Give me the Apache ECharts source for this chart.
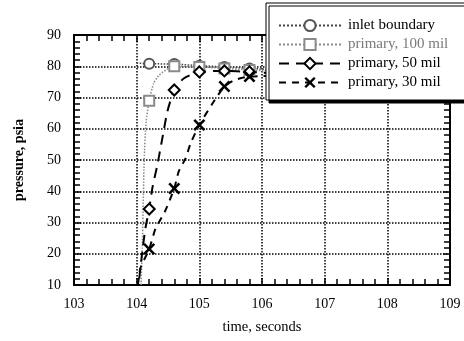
<!DOCTYPE html>
<html>
<head>
<meta charset="utf-8">
<script src="https://cdn.jsdelivr.net/npm/echarts@6/dist/echarts.min.js"></script>
<style>
  html, body { margin: 0; padding: 0; background: #fff; }
  #myChart { width: 464px; height: 341px; }
</style>
</head>
<body>
<div id="myChart"></div>
<script>
// values
const seriesNames = ['inlet boundary', 'primary, 100 mil', 'primary, 50 mil', 'primary, 30 mil']
const markerTimes = [104.2, 104.6, 105.0, 105.4, 105.8]

const inletT = [104.0, 104.2, 104.6, 105.0, 105.4, 105.8, 106.4]
const inletP = [81, 80.8, 80.7, 80.2, 79.8, 79.3, 78.7]

const mil100T = [104.07, 104.09, 104.12, 104.15, 104.2, 104.27, 104.35, 104.48, 104.6, 105.0, 105.4, 105.8, 106.4]
const mil100P = [10, 22, 50, 62, 69, 74.5, 77, 79, 80, 79.8, 79.3, 78.8, 78.2]

const mil50T = [104.04, 104.09, 104.14, 104.2, 104.25, 104.33, 104.41, 104.49, 104.6, 104.75, 105.0, 105.4, 105.8, 106.4]
const mil50P = [12, 20.7, 28.2, 34.3, 41, 48.4, 57, 65.5, 72.4, 76.1, 78.2, 78.5, 78.2, 77.5]

const mil30T = [104.02, 104.06, 104.2, 104.3, 104.45, 104.6, 104.67, 104.78, 104.86, 105.0, 105.21, 105.4, 105.56, 105.8, 106.4]
const mil30P = [10, 15.4, 21.5, 28, 33.5, 40.9, 46.3, 50.5, 55.3, 61.2, 68.1, 73.5, 75.6, 76.7, 77]

const xTicks = [103, 109, 1]
const yTicks = [10, 90, 10]

const serif = 'Liberation Serif'
const crossPath = 'path://M0,1.5L1.5,0L5,3.5L8.5,0L10,1.5L6.5,5L10,8.5L8.5,10L5,6.5L1.5,10L0,8.5L3.5,5Z'

function buildData (ts, ps) {
  return ts.map(function (t, i) {
    let item = { value: [t, ps[i]] }
    if (markerTimes.indexOf(t) < 0) item.symbol = 'none'
    return item
  })
}

function frameAxis (pos, range) {
  return {
    type: 'value',
    position: pos,
    min: range[0],
    max: range[1],
    interval: range[2],
    axisLine: { show: true, onZero: false, lineStyle: { color: '#000', width: 2 } },
    axisTick: { show: true, inside: true, length: 7, lineStyle: { color: '#000', width: 1.5 } },
    minorTick: { show: true, splitNumber: 5, length: 6, lineStyle: { color: '#000', width: 1.5 } },
    axisLabel: { show: false },
    splitLine: { show: false }
  }
}

let xMain = frameAxis('bottom', xTicks)
xMain.axisLabel = { show: true, color: '#000', fontFamily: serif, fontSize: 14, margin: 12 }
xMain.splitLine = { show: true, lineStyle: { color: '#000', type: 'dotted', width: 1.5 } }
xMain.name = 'time, seconds'
xMain.nameLocation = 'middle'
xMain.nameGap = 35
xMain.nameTextStyle = { color: '#000', fontFamily: serif, fontSize: 14.5 }

let yMain = frameAxis('left', yTicks)
yMain.axisLabel = { show: true, color: '#000', fontFamily: serif, fontSize: 14, margin: 13 }
yMain.splitLine = { show: true, lineStyle: { color: '#000', type: 'dotted', width: 1.5 } }
yMain.name = 'pressure, psia'
yMain.nameLocation = 'middle'
yMain.nameGap = 48
yMain.nameTextStyle = { color: '#000', fontFamily: serif, fontSize: 14, fontWeight: 'bold' }

let option = {
  backgroundColor: '#fff',
  animation: false,
  grid: { left: 74, right: 14, top: 35, bottom: 56 },
  legend: {
    orient: 'vertical',
    left: 266,
    top: 3,
    padding: [15, 18, 10, 12],
    itemWidth: 62,
    itemHeight: 14,
    itemGap: 4,
    backgroundColor: '#fff',
    borderColor: '#000',
    borderWidth: 1,
    shadowColor: '#000',
    shadowBlur: 0,
    shadowOffsetX: 3,
    shadowOffsetY: 3,
    textStyle: { color: '#000', fontFamily: serif, fontSize: 15, padding: [0, 0, 0, 2] },
    data: [
      { name: seriesNames[0] },
      { name: seriesNames[1], textStyle: { color: '#7a7a7a' } },
      { name: seriesNames[2] },
      { name: seriesNames[3] }
    ]
  },
  xAxis: [xMain, frameAxis('top', xTicks)],
  yAxis: [yMain, frameAxis('right', yTicks)],
  series: [
    {
      name: seriesNames[0],
      type: 'line',
      symbol: 'emptyCircle',
      symbolSize: 10,
      showAllSymbol: true,
      itemStyle: { color: '#555', borderWidth: 1.5 },
      lineStyle: { color: '#444', width: 1.5, type: 'dotted' },
      data: buildData(inletT, inletP)
    },
    {
      name: seriesNames[1],
      type: 'line',
      symbol: 'emptyRect',
      symbolSize: 10,
      showAllSymbol: true,
      smooth: 0.2,
      itemStyle: { color: '#8a8a8a', borderWidth: 1.5 },
      lineStyle: { color: '#8a8a8a', width: 1.5, type: 'dotted' },
      data: buildData(mil100T, mil100P)
    },
    {
      name: seriesNames[2],
      type: 'line',
      symbol: 'emptyDiamond',
      symbolSize: 11,
      showAllSymbol: true,
      smooth: 0.2,
      itemStyle: { color: '#000', borderWidth: 2 },
      lineStyle: { color: '#000', width: 2, type: [10, 7] },
      data: buildData(mil50T, mil50P)
    },
    {
      name: seriesNames[3],
      type: 'line',
      symbol: crossPath,
      symbolSize: 12,
      showAllSymbol: true,
      smooth: 0.2,
      itemStyle: { color: '#000' },
      lineStyle: { color: '#000', width: 2, type: [7, 6] },
      data: buildData(mil30T, mil30P)
    }
  ]
}

let myChart = echarts.init(document.getElementById('myChart'))
myChart.setOption(option)
</script>
</body>
</html>
